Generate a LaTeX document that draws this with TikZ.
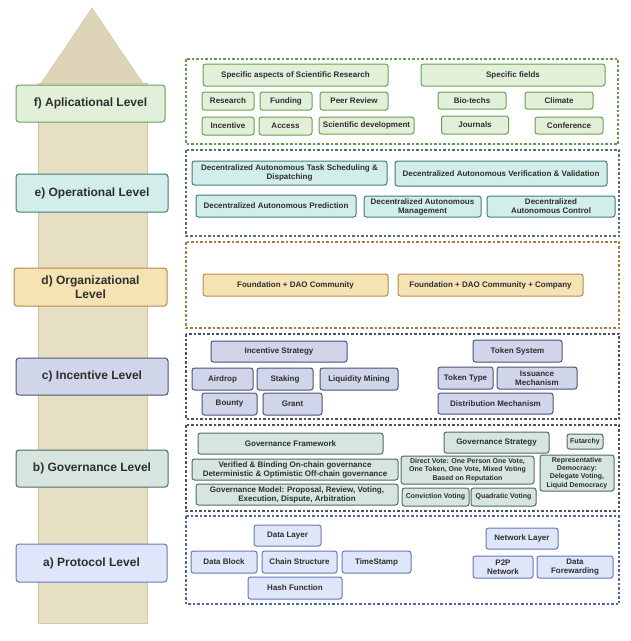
\documentclass[tikz,border=0pt]{standalone}
\usepackage{fontspec}
\setmainfont{Liberation Sans}
\definecolor{txt}{HTML}{2E2E2E}
\definecolor{fF}{HTML}{E2F0D9}\definecolor{fD}{HTML}{6A9F52}\definecolor{fK}{HTML}{5E9E48}
\definecolor{eF}{HTML}{D3EEEA}\definecolor{eD}{HTML}{3F7D78}\definecolor{eK}{HTML}{54706C}
\definecolor{dF}{HTML}{F6E3B4}\definecolor{dD}{HTML}{B4884F}\definecolor{dK}{HTML}{A87B45}
\definecolor{cF}{HTML}{D0D5EA}\definecolor{cD}{HTML}{4B5378}\definecolor{cK}{HTML}{4A4E72}
\definecolor{bF}{HTML}{D6E6DE}\definecolor{bD}{HTML}{4F6B60}\definecolor{bK}{HTML}{4A5450}
\definecolor{aF}{HTML}{E0E6FA}\definecolor{aD}{HTML}{6676B8}\definecolor{aK}{HTML}{5064A8}
\definecolor{shaft}{HTML}{E6DFC4}\definecolor{head}{HTML}{DED5B8}\definecolor{arrowedge}{HTML}{D0C7A9}
\begin{document}
\begin{tikzpicture}[x=1pt,y=-1pt,
  wh/.style 2 args={minimum width=#1pt,minimum height=#2pt},
  lvl/.style={rounded corners=3pt,line width=1pt,text=txt,align=center,inner sep=0pt,font=\fontsize{12}{14}\selectfont\bfseries},
  itm/.style={rounded corners=2.5pt,line width=1pt,text=txt,align=center,inner sep=0pt,font=\fontsize{8}{9}\selectfont\bfseries},
  sm/.style={font=\fontsize{7}{8.2}\selectfont\bfseries},
  fS/.style={itm,fill=fF,draw=fD},
  eS/.style={itm,fill=eF,draw=eD},
  dS/.style={itm,fill=dF,draw=dD},
  cS/.style={itm,fill=cF,draw=cD},
  bS/.style={itm,fill=bF,draw=bD},
  aS/.style={itm,fill=aF,draw=aD},
  frame/.style={line width=1.1pt,dash pattern=on 2.5pt off 2pt}]
\useasboundingbox (0,0) rectangle (631,641);
% big arrow
\path[fill=shaft,draw=arrowedge,line width=0.5pt] (38,83) rectangle (147,623);
\path[fill=head,draw=arrowedge,line width=0.5pt] (41,83.5) -- (92,8) -- (143,83.5) -- cycle;
% level labels
\node[lvl,fill=fF,draw=fD,wh={149}{37}] (lf) at (90.5,103.5) {f) Aplicational Level};
\node[lvl,fill=eF,draw=eD,wh={152}{38}] (le) at (92,193) {e) Operational Level};
\node[lvl,fill=dF,draw=dD,wh={153}{38}] (ld) at (90.5,287) {d) Organizational\\Level};
\node[lvl,fill=cF,draw=cD,wh={152}{37}] (lc) at (92,376.5) {c) Incentive Level};
\node[lvl,fill=bF,draw=bD,wh={152}{37}] (lb) at (92,468.5) {b) Governance Level};
\node[lvl,fill=aF,draw=aD,wh={151}{38}] (la) at (91.5,563) {a) Protocol Level};
% dashed frames
\draw[frame,draw=fK] (186,59) rectangle (618,144);
\draw[frame,draw=eK] (186,150) rectangle (619,236);
\draw[frame,draw=dK] (186,242) rectangle (619,328);
\draw[frame,draw=cK] (186,334) rectangle (619,419);
\draw[frame,draw=bK] (186,425) rectangle (619,511);
\draw[frame,draw=aK] (186,516) rectangle (619,604);
% f) level
\node[fS,wh={185}{22}] (f1) at (295.5,75) {Specific aspects of Scientific Research};
\node[fS,wh={184}{22}] (f2) at (513,75) {Specific fields};
\node[fS,wh={52}{18}] (f3) at (228,101) {Research};
\node[fS,wh={52}{18}] (f4) at (286,101) {Funding};
\node[fS,wh={68}{18}] (f5) at (354,101) {Peer Review};
\node[fS,wh={68}{17}] (f6) at (472,100.5) {Bio-techs};
\node[fS,wh={68}{17}] (f7) at (559,100.5) {Climate};
\node[fS,wh={52}{18}] (f8) at (228,126) {Incentive};
\node[fS,wh={53}{18}] (f9) at (285.5,126) {Access};
\node[fS,wh={95}{17}] (f10) at (366.5,125.5) {Scientific development};
\node[fS,wh={67}{18}] (f11) at (475,125) {Journals};
\node[fS,wh={68}{17}] (f12) at (569,125.5) {Conference};
% e) level
\node[eS,wh={195}{24}] (e1) at (289.5,173) {Decentralized Autonomous Task Scheduling \&\\Dispatching};
\node[eS,wh={212}{25}] (e2) at (501,173.5) {Decentralized Autonomous Verification \& Validation};
\node[eS,wh={160}{22}] (e3) at (276,206) {Decentralized Autonomous Prediction};
\node[eS,wh={117}{21}] (e4) at (422.5,206.5) {Decentralized Autonomous\\Management};
\node[eS,wh={128}{21}] (e5) at (551,206.5) {Decentralized\\Autonomous Control};
% d) level
\node[dS,wh={185}{22}] (d1) at (295.5,285) {Foundation + DAO Community};
\node[dS,wh={185}{22}] (d2) at (490.5,285) {Foundation + DAO Community + Company};
% c) level
\node[cS,wh={136}{21}] (c1) at (279,351.5) {Incentive Strategy};
\node[cS,wh={89}{22}] (c2) at (517.5,351) {Token System};
\node[cS,wh={61}{22}] (c3) at (222.5,379) {Airdrop};
\node[cS,wh={56}{22}] (c4) at (285,379) {Staking};
\node[cS,wh={78}{22}] (c5) at (359,379) {Liquidity Mining};
\node[cS,wh={55}{22}] (c6) at (465.5,378) {Token Type};
\node[cS,wh={80}{22}] (c7) at (537,378) {Issuance\\Mechanism};
\node[cS,wh={55}{22}] (c8) at (229.5,404) {Bounty};
\node[cS,wh={59}{22}] (c9) at (292.5,404) {Grant};
\node[cS,wh={115}{21}] (c10) at (495.5,403.5) {Distribution Mechanism};
% b) level
\node[bS,wh={185}{21}] (b1) at (290.5,443.5) {Governance Framework};
\node[bS,wh={105}{21}] (b2) at (496.5,442.5) {Governance Strategy};
\node[bS,sm,wh={36}{15}] (b3) at (585,441.5) {Futarchy};
\node[bS,wh={206}{21}] (b4) at (295,469.5) {Verified \& Binding On-chain governance\\Deterministic \& Optimistic Off-chain governance};
\node[bS,wh={202}{21}] (b5) at (297,494.5) {Governance Model: Proposal, Review, Voting,\\Execution, Dispute, Arbitration};
\node[bS,sm,wh={133}{28}] (b6) at (467.5,470) {Direct Vote: One Person One Vote,\\One Token, One Vote, Mixed Voting\\Based on Reputation};
\node[bS,sm,wh={74}{36}] (b7) at (577,473) {Representative\\Democracy:\\Delegate Voting,\\Liquid Democracy};
\node[bS,sm,wh={67}{18}] (b8) at (435.5,497) {Conviction Voting};
\node[bS,sm,wh={65}{18}] (b9) at (503.5,497) {Quadratic Voting};
% a) level
\node[aS,wh={67}{21}] (a1) at (287.5,535.5) {Data Layer};
\node[aS,wh={72}{21}] (a2) at (522,538.5) {Network Layer};
\node[aS,wh={66}{22}] (a3) at (224,562) {Data Block};
\node[aS,wh={75}{22}] (a4) at (299.5,562) {Chain Structure};
\node[aS,wh={69}{22}] (a5) at (376.5,562) {TimeStamp};
\node[aS,wh={60}{22}] (a6) at (503,567) {P2P\\Network};
\node[aS,wh={76}{22}] (a7) at (575,567) {Data\\Forewarding};
\node[aS,wh={94}{22}] (a8) at (295,588) {Hash Function};
\end{tikzpicture}
\end{document}
